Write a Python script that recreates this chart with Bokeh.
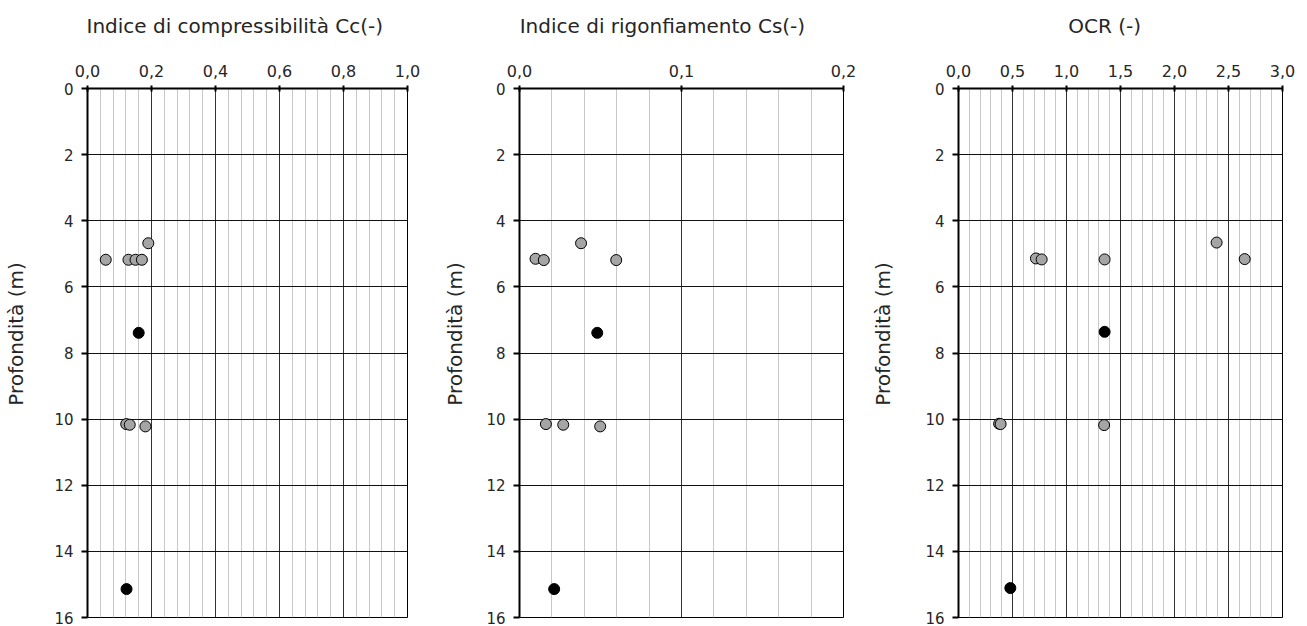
import numpy as np
from bokeh.plotting import figure
from bokeh.models import Range1d, FixedTicker, LinearAxis
from bokeh.layouts import row
from bokeh.embed import file_html
from bokeh.resources import INLINE

FONT = "DejaVu Sans"
TEXT_COLOR = "#262626"
NBSP = "\u00a0"

# depth axis (shared by all three profiles)
depth_ticks = [0, 2, 4, 6, 8, 10, 12, 14, 16]
depth_labels = ["0", "2", "4", "6", "8", "10", "12", "14", "16"]
depth_title = "Profondità (m)"

# compression index Cc
cc_title = "Indice di compressibilità Cc(-)"
cc_ticks = [0.0, 0.2, 0.4, 0.6, 0.8, 1.0]
cc_labels = ["0,0", "0,2", "0,4", "0,6", "0,8", "1,0"]
cc_gray = [0.190, 0.057, 0.128, 0.150, 0.170, 0.121, 0.132, 0.181]
cc_gray_depth = [4.68, 5.18, 5.18, 5.18, 5.18, 10.15, 10.17, 10.22]
cc_black = [0.160, 0.122]
cc_black_depth = [7.39, 15.14]

# swelling index Cs
cs_title = "Indice di rigonfiamento Cs(-)"
cs_ticks = [0.0, 0.1, 0.2]
cs_labels = ["0,0", "0,1", "0,2"]
cs_gray = [0.0099, 0.0150, 0.0380, 0.0597, 0.0163, 0.0270, 0.0498]
cs_gray_depth = [5.15, 5.19, 4.68, 5.19, 10.15, 10.17, 10.22]
cs_black = [0.0480, 0.0214]
cs_black_depth = [7.39, 15.14]

# over-consolidation ratio
ocr_title = "OCR (-)"
ocr_ticks = [0.0, 0.5, 1.0, 1.5, 2.0, 2.5, 3.0]
ocr_labels = ["0,0", "0,5", "1,0", "1,5", "2,0", "2,5", "3,0"]
ocr_gray = [2.39, 0.717, 0.770, 1.353, 2.65, 0.376, 0.390, 1.348]
ocr_gray_depth = [4.66, 5.14, 5.17, 5.17, 5.16, 10.14, 10.15, 10.18]
ocr_black = [1.353, 0.480]
ocr_black_depth = [7.36, 15.11]


def caption_axis(text, standoff):
    """Tick-less axis that only carries a caption."""
    return LinearAxis(axis_label=text,
                      ticker=FixedTicker(ticks=[]),
                      axis_line_color=None, major_tick_line_color=None,
                      minor_tick_line_color=None, major_tick_in=0,
                      major_tick_out=0, minor_tick_in=0, minor_tick_out=0,
                      major_label_standoff=0,
                      axis_label_standoff=standoff,
                      axis_label_text_font=FONT,
                      axis_label_text_font_size="20px",
                      axis_label_text_font_style="normal",
                      axis_label_text_color=TEXT_COLOR)


def panel(title, ticks, labels, minor_step, gx, gd, bx, bd,
          width, height, left, right, top, bottom,
          title_pad, title_standoff, ylab_standoff):
    xmax = ticks[-1]
    p = figure(width=width, height=height, output_backend="svg",
               toolbar_location=None, x_axis_location="above", title=None,
               x_range=Range1d(0, xmax), y_range=Range1d(16, 0),
               min_border_left=left, min_border_right=right,
               min_border_top=top, min_border_bottom=bottom,
               background_fill_color="white", border_fill_color="white")
    p.outline_line_color = "black"
    p.outline_line_width = 1

    minor = [m for m in np.arange(minor_step, xmax, minor_step)
             if min(abs(m - t) for t in ticks) > minor_step / 10]
    p.xaxis.ticker = FixedTicker(ticks=ticks, minor_ticks=minor)
    p.xaxis.major_label_overrides = {t: l for t, l in zip(ticks, labels)}
    p.yaxis.ticker = FixedTicker(ticks=depth_ticks)
    p.yaxis.major_label_overrides = {t: l for t, l in zip(depth_ticks, depth_labels)}

    for ax in (p.xaxis, p.yaxis):
        ax.axis_line_color = "black"
        ax.axis_line_width = 2
        ax.major_tick_line_color = "black"
        ax.major_tick_line_width = 2
        ax.minor_tick_line_color = None
        ax.major_label_text_font = FONT
        ax.major_label_text_color = TEXT_COLOR
    p.xaxis.major_label_text_font_size = "16px"
    p.yaxis.major_label_text_font_size = "15px"
    p.xaxis.major_tick_in = 3
    p.xaxis.major_tick_out = 3
    p.xaxis.major_label_standoff = 8
    p.yaxis.major_tick_in = 0
    p.yaxis.major_tick_out = 6
    p.yaxis.major_label_standoff = 8

    p.xgrid.ticker = p.xaxis.ticker
    p.xgrid.grid_line_color = "#333333"
    p.xgrid.grid_line_width = 1
    p.xgrid.minor_grid_line_color = "#c8c8c8"
    p.xgrid.minor_grid_line_width = 1
    p.ygrid.ticker = p.yaxis.ticker
    p.ygrid.grid_line_color = "#111111"
    p.ygrid.grid_line_width = 1

    p.scatter(gx, gd, size=11, fill_color="#a5a5a5", line_color="black",
              line_width=1)
    p.scatter(bx, bd, size=11, fill_color="black", line_color="black",
              line_width=1)

    # captions: panel name above the tick labels, depth name beside the axis
    p.add_layout(caption_axis(title + NBSP * title_pad, title_standoff),
                 "above")
    p.add_layout(caption_axis(NBSP * 6 + depth_title, ylab_standoff), "left")
    return p


p1 = panel(cc_title, cc_ticks, cc_labels, 0.04, cc_gray, cc_gray_depth,
           cc_black, cc_black_depth, 436, 626, 87, 29, 88, 9,
           4, 24, 24)
p2 = panel(cs_title, cs_ticks, cs_labels, 0.02, cs_gray, cs_gray_depth,
           cs_black, cs_black_depth, 429, 626, 83, 22, 88, 9,
           6, 24, 17)
p3 = panel(ocr_title, ocr_ticks, ocr_labels, 0.1, ocr_gray, ocr_gray_depth,
           ocr_black, ocr_black_depth, 442, 626, 93, 25, 86, 9,
           5, 24, 28)

layout = row(p1, p2, p3)
open("out.html", "w").write(file_html(layout, INLINE))
